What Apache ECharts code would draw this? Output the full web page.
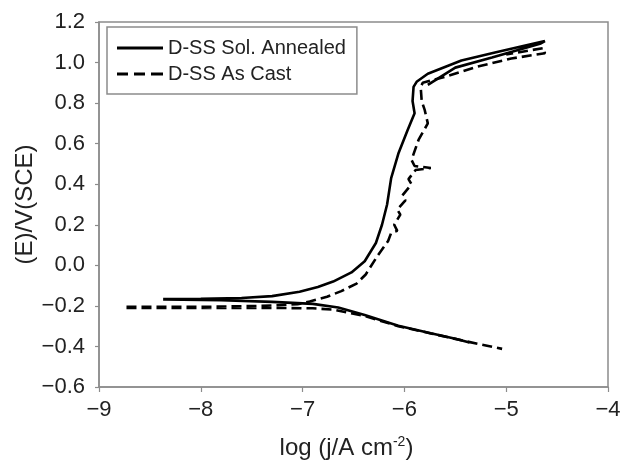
<!DOCTYPE html>
<html>
<head>
<meta charset="utf-8">
<script src="https://cdn.jsdelivr.net/npm/echarts@6/dist/echarts.min.js"></script>
<style>
html,body{margin:0;padding:0;background:#fff;}
#chart{width:625px;height:463px;}
</style>
</head>
<body>
<div id="chart"></div>
<script>
// ---- data (log j, E) ----
var seriesNames = ['D-SS Sol. Annealed', 'D-SS As Cast'];

var annealedAnodic = [
  [-8.37,-0.166],[-8.0,-0.165],[-7.6,-0.161],[-7.3,-0.152],[-7.03,-0.130],[-6.85,-0.107],
  [-6.70,-0.080],[-6.52,-0.035],[-6.39,0.020],[-6.28,0.110],[-6.22,0.200],[-6.17,0.300],
  [-6.13,0.430],[-6.06,0.550],[-5.97,0.665],[-5.90,0.750],[-5.92,0.810],[-5.91,0.880],
  [-5.88,0.905],[-5.77,0.945],[-5.44,1.010],[-5.11,1.050],[-4.78,1.088],[-4.62,1.106],
  [-4.66,1.094],[-5.14,1.025],[-5.50,0.975],[-5.77,0.890]
];
var annealedCathodic = [
  [-8.37,-0.168],[-7.8,-0.172],[-7.3,-0.180],[-6.9,-0.190],[-6.65,-0.208],[-6.39,-0.245],
  [-6.06,-0.298],[-5.74,-0.335],[-5.50,-0.362],[-5.36,-0.381]
];
var castAnodic = [
  [-8.73,-0.205],[-8.0,-0.205],[-7.4,-0.200],[-7.05,-0.192],[-6.93,-0.178],[-6.76,-0.155],
  [-6.62,-0.127],[-6.47,-0.090],[-6.38,-0.045],[-6.26,0.050],[-6.16,0.120],[-6.13,0.160],
  [-6.07,0.170],[-6.10,0.200],[-6.04,0.250],[-6.07,0.275],[-5.99,0.320],[-6.02,0.345],
  [-5.93,0.400],[-5.96,0.425],[-5.89,0.470],[-5.74,0.480],[-5.90,0.490],[-5.93,0.520],
  [-5.86,0.620],[-5.77,0.700],[-5.80,0.765],[-5.83,0.810],[-5.84,0.880],[-5.82,0.900],
  [-5.60,0.930],[-5.28,0.980],[-4.95,1.020],[-4.62,1.046],[-4.63,1.072],[-5.00,1.040]
];
var castCathodic = [
  [-8.73,-0.210],[-8.0,-0.210],[-7.3,-0.210],[-6.9,-0.212],[-6.70,-0.218],[-6.39,-0.250],
  [-6.06,-0.300],[-5.74,-0.336],[-5.40,-0.374],[-5.20,-0.395],[-5.04,-0.412]
];

var xMin = -9, xMax = -4, xStep = 1;
var yMin = -0.6, yMax = 1.2, yStep = 0.2;
var xTitle = 'log (j/A cm{sup|-2})';
var yTitle = '(E)/V(SCE)';

// ---- chart ----
var FONT = 'Liberation Sans, Arial, sans-serif';
var AX = '#8c8c8c';
var TXT = '#222';
var ICON_SOLID = 'path://M0,0h46v3h-46z';
var ICON_DASH = 'path://M0,0h11v3h-11z M17,0h11v3h-11z M34,0h12v3h-12z';
function minus(s){ return String(s).replace('-', '\u2212'); }
function join(a, b){ return a.concat([[null, null]], b); }

var chart = echarts.init(document.getElementById('chart'), null, {renderer:'canvas'});
chart.setOption({
  animation: false,
  backgroundColor: '#fff',
  grid: {left: 99, right: 17, top: 22, bottom: 76, containLabel: false, outerBoundsMode: 'none',
         show: true, borderColor: AX, borderWidth: 1.5, backgroundColor: 'transparent'},
  legend: {
    orient: 'vertical', left: 107, top: 27,
    padding: [11, 11, 10, 10], itemGap: 6, itemWidth: 46, itemHeight: 3, itemTextGap: 12,
    borderColor: AX, borderWidth: 1.5, backgroundColor: '#fff',
    textStyle: {fontFamily: FONT, fontSize: 20, color: TXT},
    data: [
      {name: seriesNames[0], icon: ICON_SOLID, itemStyle: {color: '#000'}},
      {name: seriesNames[1], icon: ICON_DASH, itemStyle: {color: '#000'}}
    ]
  },
  xAxis: {
    type: 'value', min: xMin, max: xMax, interval: xStep,
    name: xTitle, nameLocation: 'middle', nameGap: 48, nameMoveOverlap: false,
    nameTextStyle: {fontFamily: FONT, fontSize: 24, color: TXT, padding: [0, 14, 0, 0],
      rich: {sup: {fontFamily: FONT, fontSize: 14, color: TXT, verticalAlign: 'top', padding: [0,0,12,0]}}},
    axisLine: {onZero: false, lineStyle: {color: AX, width: 1.5}},
    axisTick: {show: true, inside: false, length: 5, lineStyle: {color: AX, width: 1.2}},
    axisLabel: {fontFamily: FONT, fontSize: 22, color: TXT, margin: 12, formatter: function(v){ return minus(v); }},
    splitLine: {show: false}
  },
  yAxis: {
    type: 'value', min: yMin, max: yMax, interval: yStep,
    name: yTitle, nameLocation: 'middle', nameGap: 62, nameRotate: 90, nameMoveOverlap: false,
    nameTextStyle: {fontFamily: FONT, fontSize: 24, color: TXT},
    axisLine: {show: true, onZero: false, lineStyle: {color: AX, width: 1.5}},
    axisTick: {show: true, inside: false, length: 4, lineStyle: {color: AX, width: 1.2}},
    axisLabel: {fontFamily: FONT, fontSize: 22, color: TXT, margin: 14, formatter: function(v){ return minus(v.toFixed(1)); }},
    splitLine: {show: false}
  },
  series: [
    {name: seriesNames[0], type: 'line', data: join(annealedAnodic, annealedCathodic), showSymbol: false, symbol: 'none',
     connectNulls: false, lineStyle: {color: '#000', width: 2.6, type: 'solid'}, itemStyle: {color: '#000'}},
    {name: seriesNames[1], type: 'line', data: join(castAnodic, castCathodic), showSymbol: false, symbol: 'none',
     connectNulls: false, lineStyle: {color: '#000', width: 2.6, type: [10, 5]}, itemStyle: {color: '#000'}}
  ]
});
</script>
</body>
</html>
